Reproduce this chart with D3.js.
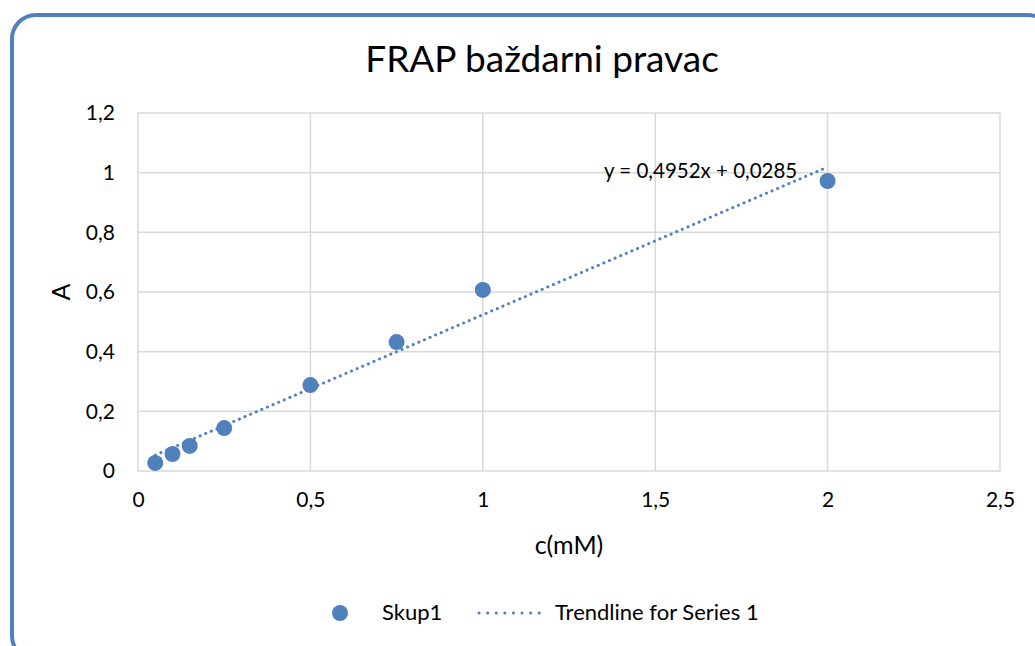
<!DOCTYPE html>
<html>
<head>
<meta charset="utf-8">
<script src="https://cdn.jsdelivr.net/npm/d3@7"></script>
<style>
  body { margin: 0; background: #fff; }
  text { font-family: Lato, "Open Sans", sans-serif; fill: #000; }
</style>
</head>
<body>
<div class="canvas-container"></div>
<script>

// data
var concentrations = [0.05, 0.1, 0.15, 0.25, 0.5, 0.75, 1, 2];
var absorbances = [0.027, 0.057, 0.084, 0.144, 0.288, 0.432, 0.607, 0.972];
var xTicks = [0, 0.5, 1, 1.5, 2, 2.5];
var yTicks = [0, 0.2, 0.4, 0.6, 0.8, 1, 1.2];
var trendSlope = 0.4952, trendIntercept = 0.0285;
var trendRange = [0.05, 2];
var legendLabels = ["Skup1", "Trendline for Series 1"];

var width = 1035, height = 646;
var blue = "#4f81bd";
var comma = function (v) { return String(v).replace(".", ","); };

var svg = d3.select("div.canvas-container")
    .append("svg")
    .attr("width", width)
    .attr("height", height);

// chart frame
svg.append("rect")
    .attr("x", 12).attr("y", 15)
    .attr("width", 1040).attr("height", 645)
    .attr("rx", 24).attr("ry", 24)
    .attr("fill", "#fff")
    .attr("stroke", blue)
    .attr("stroke-width", 4);

var plotLeft = 138, plotRight = 1000, plotTop = 113, plotBottom = 471;

var x = d3.scaleLinear().domain([0, 2.5]).range([plotLeft, plotRight]);
var y = d3.scaleLinear().domain([0, 1.2]).range([plotBottom, plotTop]);

// grid
svg.append("g")
    .selectAll("line.vgrid")
    .data(xTicks)
    .enter()
    .append("line")
    .attr("x1", function (d) { return x(d); })
    .attr("x2", function (d) { return x(d); })
    .attr("y1", plotTop).attr("y2", plotBottom)
    .attr("stroke", "#d9d9d9").attr("stroke-width", 1.5);

svg.append("g")
    .selectAll("line.hgrid")
    .data(yTicks)
    .enter()
    .append("line")
    .attr("x1", plotLeft).attr("x2", plotRight)
    .attr("y1", function (d) { return y(d); })
    .attr("y2", function (d) { return y(d); })
    .attr("stroke", "#d9d9d9").attr("stroke-width", 1.5);

// axes (labels only, Excel style)
var xAxis = svg.append("g")
    .attr("transform", "translate(0," + plotBottom + ")")
    .call(d3.axisBottom(x).tickValues(xTicks).tickSize(0).tickPadding(21).tickFormat(comma));
xAxis.select(".domain").remove();
xAxis.selectAll("text").attr("font-size", 21).attr("font-family", "Lato, sans-serif");

var yAxis = svg.append("g")
    .attr("transform", "translate(" + plotLeft + ",0)")
    .call(d3.axisLeft(y).tickValues(yTicks).tickSize(0).tickPadding(23).tickFormat(comma));
yAxis.select(".domain").remove();
yAxis.selectAll("text").attr("font-size", 21).attr("font-family", "Lato, sans-serif");

// trendline
var trendLine = d3.line()
    .x(function (d) { return x(d); })
    .y(function (d) { return y(trendSlope * d + trendIntercept); });

svg.append("path")
    .datum(trendRange)
    .attr("d", trendLine)
    .attr("fill", "none")
    .attr("stroke", blue)
    .attr("stroke-width", 3)
    .attr("stroke-linecap", "round")
    .attr("stroke-dasharray", "0.1 6");

// points
svg.append("g")
    .selectAll("circle")
    .data(concentrations)
    .enter()
    .append("circle")
    .attr("cx", function (d) { return x(d); })
    .attr("cy", function (d, i) { return y(absorbances[i]); })
    .attr("r", 8)
    .attr("fill", blue);

// equation label
svg.append("text")
    .attr("x", 604).attr("y", 178)
    .attr("font-size", 20.5)
    .text("y = " + comma(trendSlope) + "x + " + comma(trendIntercept));

// title
svg.append("text")
    .attr("x", 542).attr("y", 72)
    .attr("text-anchor", "middle")
    .attr("font-size", 37)
    .text("FRAP baždarni pravac");

// axis titles
svg.append("text")
    .attr("x", x(1.25)).attr("y", 554)
    .attr("text-anchor", "middle")
    .attr("font-size", 25)
    .text("c(mM)");

svg.append("text")
    .attr("transform", "translate(70," + y(0.6) + ") rotate(-90)")
    .attr("text-anchor", "middle")
    .attr("font-size", 25)
    .text("A");

// legend
svg.append("circle")
    .attr("cx", 340).attr("cy", 613).attr("r", 8)
    .attr("fill", blue);
svg.append("text")
    .attr("x", 382).attr("y", 620)
    .attr("font-size", 22)
    .text(legendLabels[0]);
svg.append("line")
    .attr("x1", 479).attr("x2", 547)
    .attr("y1", 613).attr("y2", 613)
    .attr("stroke", blue)
    .attr("stroke-width", 3)
    .attr("stroke-linecap", "round")
    .attr("stroke-dasharray", "0.1 8.5");
svg.append("text")
    .attr("x", 555).attr("y", 620)
    .attr("font-size", 22)
    .text(legendLabels[1]);

</script>
</body>
</html>
